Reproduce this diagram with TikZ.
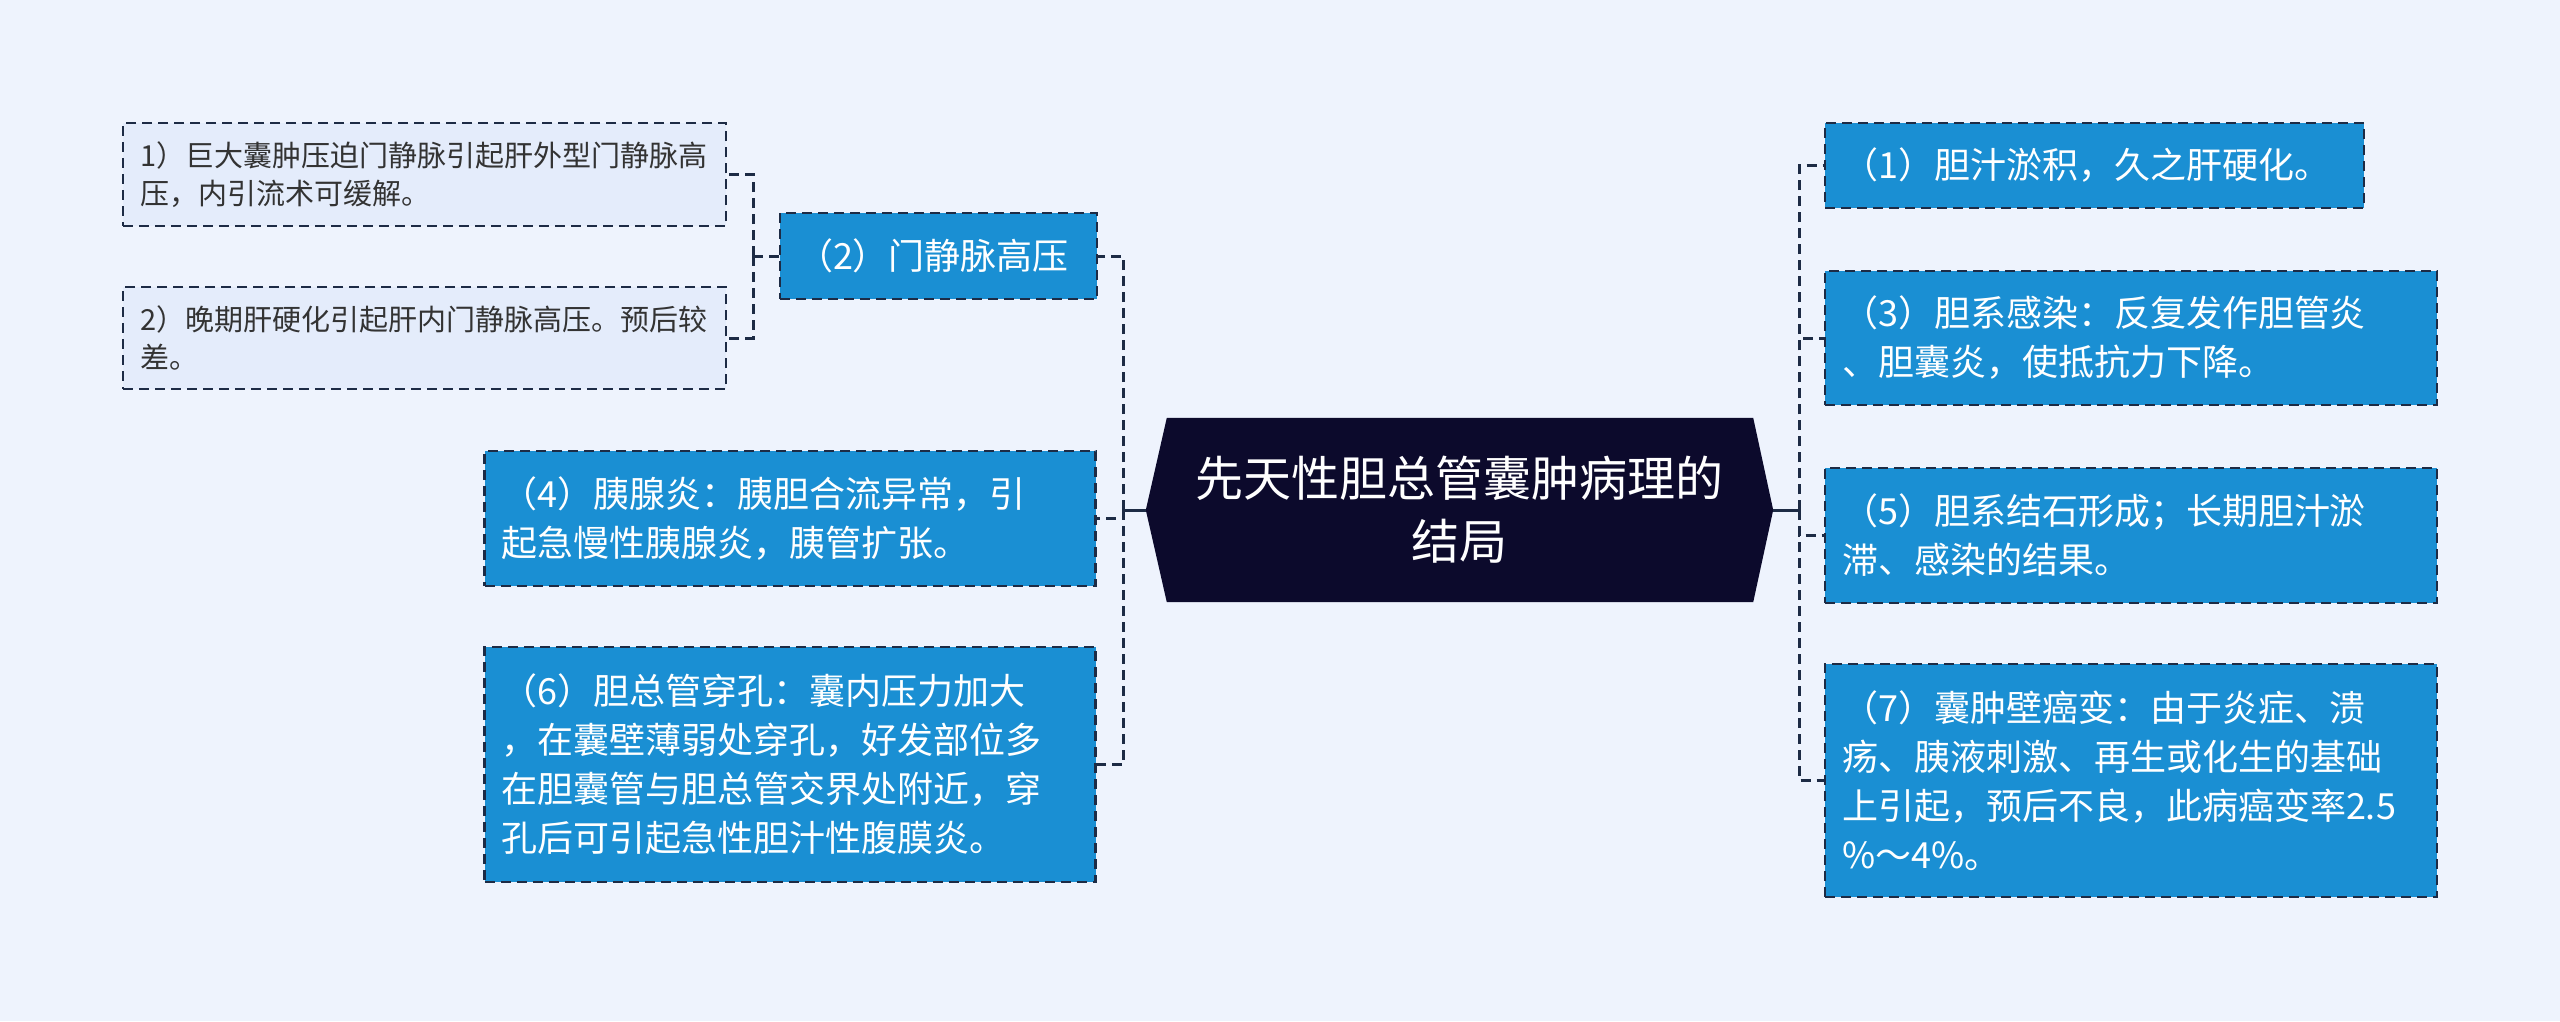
\documentclass[tikz,border=0pt]{standalone}
\usepackage{fontspec}
\setmainfont{Noto Sans CJK SC}
\usetikzlibrary{backgrounds}
\definecolor{bgc}{HTML}{EEF3FD}
\definecolor{bluefill}{HTML}{1A8FD3}
\definecolor{edgec}{HTML}{1D2B45}
\definecolor{leaffill}{HTML}{E4ECFB}
\definecolor{leaftext}{HTML}{333333}
\definecolor{rootfill}{HTML}{0C0A2C}
\tikzset{
  bluebox/.style={draw=edgec, line width=2.5pt, dash pattern=on 10pt off 6pt, fill=bluefill,
    text=white, align=left, inner xsep=17pt, inner ysep=0pt, anchor=center,
    font=\fontsize{36}{49}\selectfont},
  leafbox/.style={draw=edgec, line width=2pt, dash pattern=on 10pt off 6pt, fill=leaffill,
    text=leaftext, align=left, inner xsep=17pt, inner ysep=0pt, anchor=center,
    font=\fontsize{29}{38}\selectfont},
  rootbox/.style={text=white, align=center, inner sep=0pt, anchor=center,
    font=\fontsize{48}{63}\selectfont},
  conn/.style={draw=edgec, line width=3pt, dash pattern=on 10pt off 6pt},
  trunk/.style={draw=edgec, line width=3pt},
}
\begin{document}
\begin{tikzpicture}[x=1pt,y=-1pt]
\useasboundingbox (0,0) rectangle (2560,1021);

% root
\node[rootbox, minimum width=627pt, minimum height=184pt] (root) at (1459.5,510) {先天性胆总管囊肿病理的\\结局};
\begin{scope}[on background layer]
\fill[bgc] (0,0) rectangle (2560,1021);
\fill[rootfill] (root.west) -- ([xshift=21pt]root.north west) -- ([xshift=-20pt]root.north east)
  -- (root.east) -- ([xshift=-20pt]root.south east) -- ([xshift=21pt]root.south west) -- cycle;
\end{scope}

% left children
\node[bluebox, text width=283pt, minimum height=86pt] (n2) at (938.5,256) {（2）门静脉高压};
\node[bluebox, text width=577pt, minimum height=135pt] (n4) at (790,518.5) {（4）胰腺炎：胰胆合流异常，引\\起急慢性胰腺炎，胰管扩张。};
\node[bluebox, text width=577pt, minimum height=235pt] (n6) at (790,764.5) {（6）胆总管穿孔：囊内压力加大\\，在囊壁薄弱处穿孔，好发部位多\\在胆囊管与胆总管交界处附近，穿\\孔后可引起急性胆汁性腹膜炎。};

% leaves of (2)
\node[leafbox, text width=569pt, minimum height=103pt] (l1) at (424.5,174.5) {1）巨大囊肿压迫门静脉引起肝外型门静脉高\\压，内引流术可缓解。};
\node[leafbox, text width=569pt, minimum height=102pt] (l2) at (424.5,338) {2）晚期肝硬化引起肝内门静脉高压。预后较\\差。};

% right children
\node[bluebox, text width=505pt, minimum height=85pt] (n1) at (2094.5,165.5) {（1）胆汁淤积，久之肝硬化。};
\node[bluebox, text width=578pt, minimum height=134pt] (n3) at (2131,338) {（3）胆系感染：反复发作胆管炎\\、胆囊炎，使抵抗力下降。};
\node[bluebox, text width=578pt, minimum height=135pt] (n5) at (2131,535.5) {（5）胆系结石形成；长期胆汁淤\\滞、感染的结果。};
\node[bluebox, text width=578pt, minimum height=233pt] (n7) at (2131,780.5) {（7）囊肿壁癌变：由于炎症、溃\\疡、胰液刺激、再生或化生的基础\\上引起，预后不良，此病癌变率2.5\\\%～4\%。};

% connectors
\coordinate (sl) at (1123,510);
\coordinate (sr) at (1799,510);
\coordinate (s2) at (753,256);

\draw[trunk] (root.west) -- (sl);
\draw[conn] (sl) |- (n2.east);
\draw[conn] (sl) |- (n4.east);
\draw[conn] (sl) |- (n6.east);

\draw[trunk] (root.east) -- (sr);
\draw[conn] (sr) |- (n1.west);
\draw[conn] (sr) |- (n3.west);
\draw[conn] (sr) |- (n5.west);
\draw[conn] (sr) |- (n7.west);

\draw[conn] (n2.west) -- (s2);
\draw[conn] (s2) |- (l1.east);
\draw[conn] (s2) |- (l2.east);
\end{tikzpicture}
\end{document}
